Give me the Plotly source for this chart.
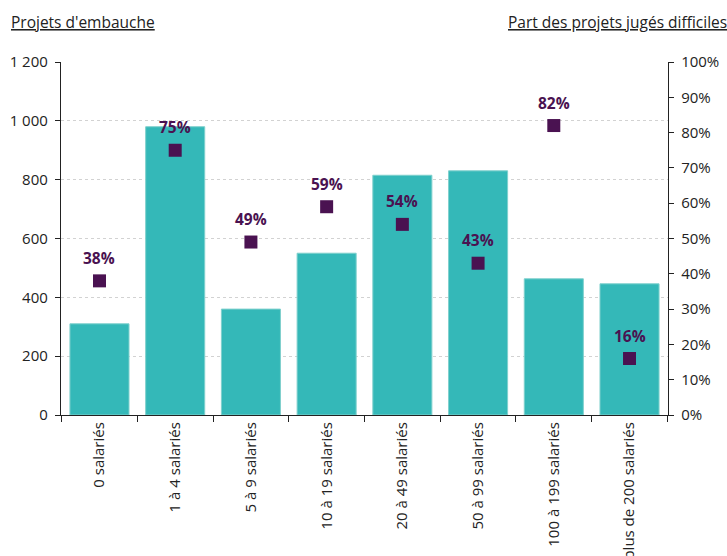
import plotly.graph_objects as go

categories = ["0 salariés", "1 à 4 salariés", "5 à 9 salariés", "10 à 19 salariés",
              "20 à 49 salariés", "50 à 99 salariés", "100 à 199 salariés", "plus de 200 salariés"]
projets = [310, 980, 360, 550, 815, 830, 463, 446]
part_difficiles = [38, 75, 49, 59, 54, 43, 82, 16]

left_tickvals = [0, 200, 400, 600, 800, 1000, 1200]
left_ticktext = ["0", "200", "400", "600", "800", "1 000", "1 200"]
right_tickvals = [0, 10, 20, 30, 40, 50, 60, 70, 80, 90, 100]
right_ticktext = [f"{v}%" for v in right_tickvals]

BAR = "#34b8b8"
PURPLE = "#4a1251"
FONT = "Open Sans"

fig = go.Figure()
fig.add_trace(go.Bar(
    x=categories, y=projets, marker=dict(color=BAR, line=dict(color="#7fd0cd", width=1)),
    width=0.78, yaxis="y", showlegend=False, hoverinfo="skip"))
fig.add_trace(go.Scatter(
    x=categories, y=part_difficiles, yaxis="y2", mode="markers",
    marker=dict(symbol="square", size=13, color=PURPLE),
    showlegend=False, hoverinfo="skip"))

annotations = [
    dict(x=c, y=v, xref="x", yref="y2", text=f"{v}%", showarrow=False, yshift=23,
         xanchor="center", yanchor="middle",
         font=dict(family=FONT, size=15.5, color=PURPLE, weight="bold"))
    for c, v in zip(categories, part_difficiles)
]
annotations += [
    dict(text="<u>Projets d'embauche</u>", xref="paper", yref="paper", x=0, y=1,
         xshift=-52, yshift=40, xanchor="left", yanchor="middle", showarrow=False,
         font=dict(size=15.5, color="#222222")),
    dict(text="<u>Part des projets jugés difficiles</u>", xref="paper", yref="paper",
         x=1, y=1, xshift=61, yshift=40, xanchor="right", yanchor="middle",
         showarrow=False, font=dict(size=15.5, color="#222222")),
]

fig.update_layout(
    width=727, height=556,
    margin=dict(l=61, r=59, t=62, b=141, autoexpand=False),
    paper_bgcolor="white", plot_bgcolor="white",
    font=dict(family=FONT, size=15, color="#222222"),
    xaxis=dict(type="category", tickangle=-90, tickson="boundaries", ticks="outside",
               ticklen=6, tickcolor="#222222", showline=True, linecolor="#222222",
               linewidth=1.3, tickfont=dict(size=15, color="#222222"), showgrid=False,
               automargin=False),
    yaxis=dict(range=[0, 1200], tickvals=left_tickvals, ticktext=left_ticktext,
               ticks="outside", ticklen=5, tickcolor="#222222", showline=True,
               linecolor="#222222", linewidth=1.3, showgrid=True, gridcolor="#d2d2d2",
               griddash="dot", gridwidth=1, zeroline=False, ticklabelstandoff=4,
               automargin=False),
    yaxis2=dict(range=[0, 100], tickvals=right_tickvals, ticktext=right_ticktext,
                overlaying="y", side="right", ticks="outside", ticklen=5,
                tickcolor="#222222", showline=True, linecolor="#222222", linewidth=1.3,
                showgrid=False, zeroline=False, ticklabelstandoff=4, automargin=False),
    annotations=annotations,
)

fig.write_html("out.html", config={"displayModeBar": False},
               post_script="document.body.style.margin='0';")
